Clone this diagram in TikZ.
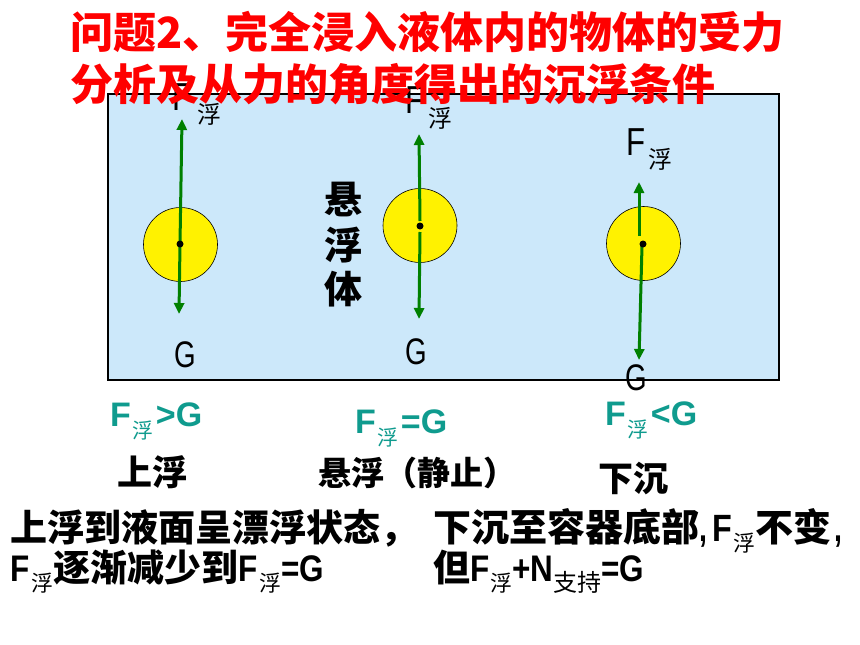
\documentclass[tikz,border=0pt]{standalone}
\usepackage{fontspec}
\usepackage{graphicx}
\setmainfont{Liberation Sans}
\newfontfamily\cjk{Noto Sans CJK SC}
\usetikzlibrary{arrows.meta}
\definecolor{water}{RGB}{204,232,250}
\definecolor{forcegreen}{RGB}{0,128,0}
\definecolor{condteal}{RGB}{15,155,142}
\newcommand\nar[2][0.75]{\scalebox{#1}[1]{#2}}
\newcommand\fsz[1]{\fontsize{#1}{#1}\selectfont}
\newcommand\zh[1]{{\cjk #1}}
\newcommand\subfu[2]{\raisebox{-#2}{\cjk\mdseries\fsz{#1}浮}}
\begin{document}
\begin{tikzpicture}[x=1pt,y=-1pt,
  txt/.style={inner sep=0pt, anchor=base west},
  ctxt/.style={inner sep=0pt, anchor=base},
  ball/.style={circle, draw=black, line width=0.6pt, fill=yellow, minimum size=74pt, inner sep=0pt},
  cdot/.style={circle, fill=black, minimum size=7pt, inner sep=0pt},
  forcearrow/.style={draw=forcegreen, line width=3pt, -{Triangle[width=10pt,length=11pt]}}]
\useasboundingbox (0,0) rectangle (860,645);
\fill[white] (0,0) rectangle (860,645);
% tank
\node[draw=black, line width=1.5pt, fill=water, minimum width=671pt, minimum height=286pt,
      anchor=north west, inner sep=0pt] (tank) at (107,93) {};
% balls
\node[ball] (b1) at (180.5,244.5) {};
\node[ball] (b2) at (420,225.5) {};
\node[ball] (b3) at (643.5,243.5) {};
% force arrow endpoints
\coordinate (s1u) at (180,244);  \coordinate (t1u) at (182,119);
\coordinate (s1d) at (180,244);  \coordinate (t1d) at (179,314);
\coordinate (s2u) at (420,221);  \coordinate (t2u) at (419,134);
\coordinate (s2d) at (420,232);  \coordinate (t2d) at (419,319);
\coordinate (s3u) at (639,236);  \coordinate (t3u) at (639,182);
\coordinate (s3d) at (642,246);  \coordinate (t3d) at (639,360);
\draw[forcearrow] (s1u) -- (t1u);
\draw[forcearrow] (s1d) -- (t1d);
\draw[forcearrow] (s2u) -- (t2u);
\draw[forcearrow] (s2d) -- (t2d);
\draw[forcearrow] (s3u) -- (t3u);
\draw[forcearrow] (s3d) -- (t3d);
% centre dots
\node[cdot] (d1) at (180,244) {};
\node[cdot] (d2) at (420,226) {};
\node[cdot] (d3) at (643,244) {};
% F labels in tank
\node[txt] (f1) at (172,110) {\fsz{39}\nar[0.8]{F}};
\node[txt] (f1s) at (197,123) {\cjk\fsz{24}浮};
\node[txt] (f2) at (405,113) {\fsz{39}\nar[0.8]{F}};
\node[txt] (f2s) at (428,127) {\cjk\fsz{24}浮};
\node[txt] (f3) at (626,155) {\fsz{39}\nar[0.8]{F}};
\node[txt] (f3s) at (648,168) {\cjk\fsz{24}浮};
% G labels
\node[txt] (g1) at (174,367) {\fsz{37}\nar{G}};
\node[txt] (g2) at (405,364) {\fsz{37}\nar{G}};
\node[txt] (g3) at (625,390) {\fsz{37}\nar{G}};
% suspended body
\node[ctxt] (x1) at (343,213) {\cjk\bfseries\fsz{38}悬};
\node[ctxt] (x2) at (343,259) {\cjk\bfseries\fsz{38}浮};
\node[ctxt] (x3) at (343,303) {\cjk\bfseries\fsz{38}体};
% conditions
\node[txt, text=condteal] (c1) at (110,426) {\bfseries\fsz{34}F\hspace{2pt}\subfu{21}{12pt}\hspace{2pt}>G};
\node[txt, text=condteal] (c2) at (355,433) {\bfseries\fsz{34}F\hspace{2pt}\subfu{21}{12pt}\hspace{2pt}=G};
\node[txt, text=condteal] (c3) at (605,425) {\bfseries\fsz{34}F\hspace{2pt}\subfu{21}{12pt}\hspace{2pt}<G};
% states
\node[txt] (m1) at (117,485) {\cjk\bfseries\fsz{35}上浮};
\node[txt] (m2) at (318,485) {\cjk\bfseries\fsz{33}悬浮（静止）};
\node[txt] (m3) at (598,491) {\cjk\bfseries\fsz{35}下沉};
% explanations
\node[txt] (e1) at (10,541) {\cjk\bfseries\fsz{37}上浮到液面呈漂浮状态，};
\node[txt] (e2) at (433,541) {\bfseries\fsz{38}\zh{下沉至容器底部}\nar{,}\hspace{5pt}\nar[0.85]{F}\hspace{2pt}\subfu{22}{10pt}\zh{不变}\hspace{3pt}\nar{,}};
\node[txt] (e3) at (10,581) {\bfseries\fsz{37}\nar[0.85]{F}\hspace{2pt}\subfu{22}{10pt}\zh{逐渐减少到}\nar[0.85]{F}\hspace{2pt}\subfu{22}{10pt}\nar[0.85]{=G}};
\node[txt] (e4) at (433,581) {\bfseries\fsz{37}\zh{但}\nar[0.85]{F}\hspace{1pt}\subfu{22}{10pt}\nar[0.85]{+N}\raisebox{-10pt}{\cjk\mdseries\fsz{24}支持}\nar[0.85]{=G}};
% title
\node[txt, text=red] (t1) at (70,48) {\cjk\bfseries\fsz{43}问题2、完全浸入液体内的物体的受力};
\node[txt, text=red] (t2) at (70,100) {\cjk\bfseries\fsz{43}分析及从力的角度得出的沉浮条件};
\end{tikzpicture}
\end{document}
